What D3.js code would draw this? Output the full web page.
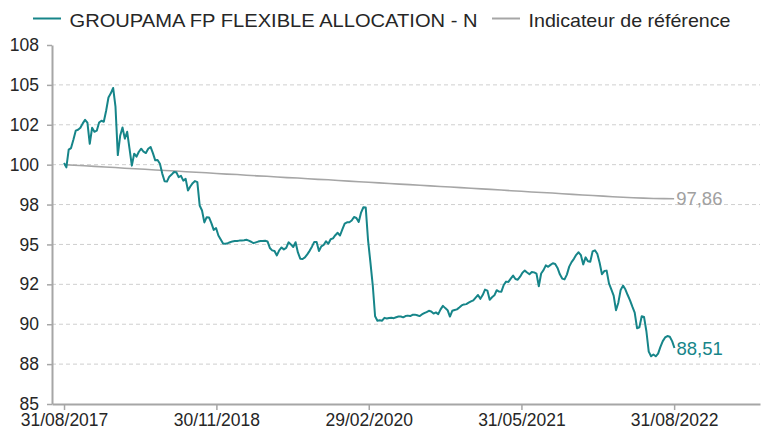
<!DOCTYPE html>
<html>
<head>
<meta charset="utf-8">
<script src="https://cdn.jsdelivr.net/npm/d3@7"></script>
<style>
  body { margin: 0; background: #fff; }
  svg { display: block; font-family: "Liberation Sans", Arial, sans-serif; }
</style>
</head>
<body>
<div id="chart"></div>
<script>
// series names
var fundName = "GROUPAMA FP FLEXIBLE ALLOCATION - N";
var refName = "Indicateur de référence";

// fund: weekly values starting 31/08/2017
var fundStart = "31/08/2017";
var fundValues = [
  100.11, 99.83, 100.94, 101.04, 101.56, 102.13, 102.19, 102.31, 102.59, 102.81,
  102.63, 101.31, 102.31, 102.06, 102.13, 102.64, 102.75, 102.69, 103.38, 104.21,
  104.47, 104.81, 103.63, 100.60, 101.81, 102.33, 101.63, 102.06, 101.00, 99.94,
  100.69, 100.50, 100.81, 101.00, 100.81, 100.73, 101.00, 101.11, 100.72, 100.27,
  100.29, 100.06, 99.44, 98.96, 98.94, 99.25, 99.38, 99.54, 99.53, 99.22,
  99.30, 99.00, 99.11, 98.38, 98.63, 98.84, 98.97, 98.91, 97.44, 97.13,
  96.38, 96.71, 96.69, 96.34, 95.91, 96.03, 95.56, 95.31, 95.06, 95.04,
  95.08, 95.14, 95.19, 95.21, 95.21, 95.24, 95.25, 95.26, 95.29, 95.24,
  95.17, 95.08, 95.13, 95.18, 95.21, 95.21, 95.23, 95.19, 94.78, 94.63,
  94.59, 94.31, 94.63, 94.81, 94.69, 94.78, 95.13, 95.00, 94.84, 95.14,
  94.50, 94.11, 94.09, 94.19, 94.38, 94.60, 94.86, 95.16, 95.15, 94.59,
  94.88, 94.97, 95.20, 95.04, 95.33, 95.38, 95.58, 95.73, 95.56, 95.95,
  96.31, 96.39, 96.39, 96.50, 96.72, 96.66, 96.41, 97.00, 97.33, 97.31,
  95.25, 93.88, 92.44, 90.50, 90.22, 90.25, 90.22, 90.40, 90.36, 90.39,
  90.41, 90.38, 90.44, 90.48, 90.48, 90.43, 90.51, 90.54, 90.51, 90.59,
  90.60, 90.56, 90.51, 90.61, 90.69, 90.76, 90.84, 90.80, 90.67, 90.74,
  90.63, 90.93, 91.15, 91.01, 90.88, 90.48, 90.84, 90.89, 90.93, 91.05,
  91.18, 91.24, 91.26, 91.35, 91.43, 91.50, 91.67, 91.83, 91.59, 91.83,
  92.17, 92.11, 91.53, 91.69, 91.81, 92.13, 92.05, 92.04, 92.46, 92.67,
  92.65, 92.86, 93.05, 92.83, 92.79, 92.98, 93.23, 93.36, 93.24, 93.13,
  93.27, 93.25, 93.17, 92.38, 93.18, 93.39, 93.69, 93.60, 93.72, 93.82,
  93.77, 93.53, 93.13, 92.86, 92.81, 93.11, 93.61, 93.89, 94.10, 94.35,
  94.51, 94.33, 93.75, 94.19, 93.95, 93.92, 94.56, 94.63, 94.42, 93.85,
  93.13, 93.33, 93.36, 92.56, 92.18, 91.79, 90.88, 91.35, 92.15, 92.42,
  92.19, 91.83, 91.50, 91.10, 90.73, 89.75, 89.81, 90.50, 90.45, 89.56,
  88.28, 87.99, 88.10, 87.99, 88.16, 88.58, 88.94, 89.17, 89.26, 89.22,
  88.94, 88.51
];

// reference indicator: month-end values, 31/08/2017 .. 31/08/2022
var refValues = [
  100.00, 99.96, 99.93, 99.89, 99.85, 99.82, 99.78, 99.74, 99.71, 99.67,
  99.63, 99.60, 99.56, 99.52, 99.49, 99.45, 99.41, 99.38, 99.34, 99.30,
  99.27, 99.23, 99.19, 99.16, 99.12, 99.08, 99.05, 99.01, 98.97, 98.93,
  98.90, 98.86, 98.82, 98.78, 98.75, 98.71, 98.67, 98.63, 98.60, 98.56,
  98.52, 98.48, 98.45, 98.41, 98.37, 98.33, 98.29, 98.26, 98.22, 98.18,
  98.14, 98.10, 98.07, 98.03, 97.99, 97.96, 97.93, 97.90, 97.88, 97.87,
  97.86
];

// axis ticks
var yTicks = [85, 87.5, 90, 92.5, 95, 97.5, 100, 102.5, 105, 107.5];
var yTickLabels = ["85", "88", "90", "92", "95", "98", "100", "102", "105", "108"];
var xTickLabels = ["31/08/2017", "30/11/2018", "29/02/2020", "31/05/2021", "31/08/2022"];

var width = 768, height = 431;
var teal = "#168589";
var grey = "#a6a6a6";

var parseDate = d3.timeParse("%d/%m/%Y");
var start = parseDate(fundStart);

var fund = fundValues.map(function (v, i) {
    return { date: d3.timeDay.offset(start, 7 * i), value: v };
});
var ref = refValues.map(function (v, i) {
    return { date: new Date(2017, 8 + i, 0), value: v };
});

var svg = d3.select("#chart")
    .append("svg")
    .attr("width", width)
    .attr("height", height);

var x = d3.scaleTime()
    .domain([parseDate("26/07/2017"), parseDate("15/05/2023")])
    .range([52, 760]);

var y = d3.scaleLinear()
    .domain([85, 107.5])
    .range([404, 45]);

// dashed gridlines
svg.append("g")
    .selectAll("line")
    .data(yTicks.filter(function (d) { return d > 85 && d < 107.5; }))
    .enter()
    .append("line")
    .attr("x1", 52)
    .attr("x2", 760)
    .attr("y1", function (d) { return y(d); })
    .attr("y2", function (d) { return y(d); })
    .attr("stroke", "#cfcfcf")
    .attr("stroke-width", 1)
    .attr("stroke-dasharray", "4,3");

// y axis
var yAxis = svg.append("g")
    .attr("transform", "translate(52,0)")
    .call(d3.axisLeft(y)
        .tickValues(yTicks)
        .tickFormat(function (d, i) { return yTickLabels[i]; })
        .tickSize(5)
        .tickSizeOuter(0)
        .tickPadding(8));

// x axis
var xAxis = svg.append("g")
    .attr("transform", "translate(0,404)")
    .call(d3.axisBottom(x)
        .tickValues(xTickLabels.map(parseDate))
        .tickFormat(d3.timeFormat("%d/%m/%Y"))
        .tickSize(6)
        .tickSizeOuter(0)
        .tickPadding(4));

[yAxis, xAxis].forEach(function (g) {
    g.select(".domain").attr("stroke", grey).attr("stroke-width", 2);
    g.selectAll(".tick line").attr("stroke", grey).attr("stroke-width", 1.5);
    g.selectAll(".tick text")
        .attr("fill", "#262626")
        .style("font-size", "17.5px")
        .style("font-family", "'Liberation Sans', Arial, sans-serif");
});

var line = d3.line()
    .x(function (d) { return x(d.date); })
    .y(function (d) { return y(d.value); });

// reference line
svg.append("path")
    .datum(ref)
    .attr("fill", "none")
    .attr("stroke", grey)
    .attr("stroke-width", 1.6)
    .attr("d", line);

// fund line
svg.append("path")
    .datum(fund)
    .attr("fill", "none")
    .attr("stroke", teal)
    .attr("stroke-width", 2)
    .attr("stroke-linejoin", "round")
    .attr("d", line);

// end value labels
var fmt = function (v) { return v.toFixed(2).replace(".", ","); };
var lastRef = ref[ref.length - 1];
var lastFund = fund[fund.length - 1];

svg.append("text")
    .attr("x", x(lastRef.date) + 2)
    .attr("y", y(lastRef.value))
    .attr("dy", "0.36em")
    .attr("fill", "#a0a0a0")
    .style("font-size", "18.5px")
    .text(fmt(lastRef.value));

svg.append("text")
    .attr("x", x(lastFund.date) + 2)
    .attr("y", y(lastFund.value))
    .attr("dy", "0.36em")
    .attr("fill", teal)
    .style("font-size", "18.5px")
    .text(fmt(lastFund.value));

// legend
var legend = [
    { name: fundName, color: teal, x: 33, len: 408 },
    { name: refName, color: grey, x: 492, len: 202 }
];

var lg = svg.append("g");
legend.forEach(function (d) {
    lg.append("line")
        .attr("x1", d.x)
        .attr("x2", d.x + 28)
        .attr("y1", 18.5)
        .attr("y2", 18.5)
        .attr("stroke", d.color)
        .attr("stroke-width", 2);
    lg.append("text")
        .attr("x", d.x + 36.5)
        .attr("y", 26.5)
        .attr("fill", "#262626")
        .attr("textLength", d.len)
        .attr("lengthAdjust", "spacingAndGlyphs")
        .style("font-size", "19px")
        .text(d.name);
});
</script>
</body>
</html>
